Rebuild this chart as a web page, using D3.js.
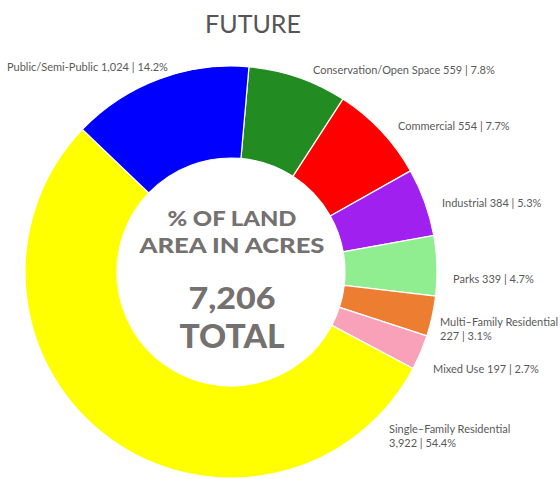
<!DOCTYPE html>
<html>
<head>
<meta charset="utf-8">
<script src="https://cdn.jsdelivr.net/npm/d3@7"></script>
<style>
  html, body { margin: 0; padding: 0; background: #fff; }
  svg { display: block; }
</style>
</head>
<body>
<svg id="chart" width="560" height="479"></svg>
<script>
// Land use categories, clockwise from the top of the ring
const categories = [
  "Conservation/Open Space", "Commercial", "Industrial", "Parks",
  "Multi-Family Residential", "Mixed Use", "Single-Family Residential",
  "Public/Semi-Public"
];
const acres = [559, 554, 384, 339, 227, 197, 3922, 1024];
const percents = ["7.8%", "7.7%", "5.3%", "4.7%", "3.1%", "2.7%", "54.4%", "14.2%"];
const colors = ["#228B22", "#FF0000", "#A020F0", "#90EE90", "#ED7D31", "#F9A1B9", "#FFFF00", "#0000FF"];
const totalAcres = 7206;

// Label lines for each slice
const labelLines = [
  ["Conservation/Open Space 559 | 7.8%"],
  ["Commercial  554 | 7.7%"],
  ["Industrial 384 | 5.3%"],
  ["Parks 339 | 4.7%"],
  ["Multi\u2013Family Residential", "227 | 3.1%"],
  ["Mixed Use  197 | 2.7%"],
  ["Single\u2013Family Residential", "3,922 | 54.4%"],
  ["Public/Semi-Public 1,024 | 14.2%"]
];
// Label anchor points (left edge, first baseline)
const labelPos = [
  [313, 74], [398, 130], [442, 207], [453, 283],
  [440, 326], [433, 373], [389, 433], [7, 71]
];

const svg = d3.select("#chart");
const cx = 231, cy = 272, outerR = 206, innerR = 114;

svg.append("text")
  .attr("x", 253).attr("y", 33)
  .attr("text-anchor", "middle")
  .attr("font-family", "Lato")
  .attr("font-size", 25)
  .attr("fill", "#555")
  .text("FUTURE");

const data = categories.map((c, i) => ({ name: c, value: acres[i], color: colors[i], i }));

const pie = d3.pie()
  .sort(null)
  .value(d => d.value)
  .startAngle(5 * Math.PI / 180)
  .endAngle(5 * Math.PI / 180 + 2 * Math.PI);

const arc = d3.arc().innerRadius(innerR).outerRadius(outerR);

const g = svg.append("g").attr("transform", `translate(${cx},${cy})`);
g.selectAll("path")
  .data(pie(data))
  .join("path")
  .attr("d", arc)
  .attr("fill", d => d.data.color)
  .attr("stroke", "#fff")
  .attr("stroke-width", 1.2);

// Slice labels
const labels = svg.append("g")
  .attr("font-family", "Lato")
  .attr("font-size", 11)
  .attr("fill", "#5a5a5a")
  .style("white-space", "pre");
data.forEach((d, i) => {
  const t = labels.append("text")
    .attr("x", labelPos[i][0])
    .attr("y", labelPos[i][1]);
  labelLines[i].forEach((line, k) => {
    t.append("tspan")
      .attr("x", labelPos[i][0])
      .attr("dy", k === 0 ? 0 : 14)
      .text(line);
  });
});

// Center caption, stretched to the wide display lettering
const centerLines = [
  { text: "% OF LAND", y: 226, size: 21, width: 129 },
  { text: "AREA IN ACRES", y: 253, size: 21, width: 185 },
  { text: d3.format(",")(totalAcres), y: 309, size: 31, width: 87 },
  { text: "TOTAL", y: 348, size: 32, width: 105 }
];
svg.append("g")
  .attr("font-family", "Lato")
  .attr("font-weight", 900)
  .attr("fill", "#757170")
  .attr("text-anchor", "middle")
  .selectAll("text")
  .data(centerLines)
  .join("text")
  .attr("x", cx + 1)
  .attr("y", d => d.y)
  .attr("font-size", d => d.size)
  .attr("textLength", d => d.width)
  .attr("lengthAdjust", "spacingAndGlyphs")
  .text(d => d.text);
</script>
</body>
</html>
